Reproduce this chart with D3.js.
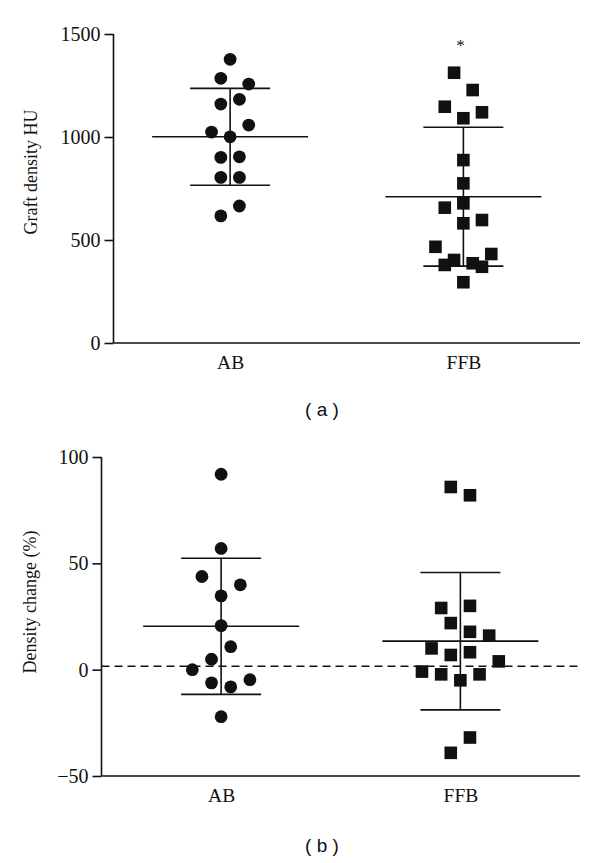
<!DOCTYPE html>
<html>
<head>
<meta charset="utf-8">
<script src="https://cdn.jsdelivr.net/npm/d3@7"></script>
<style>
  html, body { margin: 0; padding: 0; background: #fff; }
  svg { display: block; }
  text { fill: #111; }
</style>
</head>
<body>
<div id="chart"></div>
<script>
// ---------------- data ----------------
const categories = ["AB", "FFB"];

// Panel (a): Graft density HU
const densityAB      = [1377, 1285, 1257, 1183, 1160, 1058, 1024, 1001, 904, 901, 804, 804, 665, 617];
const densityABSlot  = [0, -1, 2, 1, -1, 2, -2, 0, 1, -1, -1, 1, 1, -1];
const densityFFB     = [1312, 1228, 1147, 1120, 1091, 888, 775, 678, 657, 597, 581, 467, 432, 403, 387, 379, 370, 295];
const densityFFBSlot = [-1, 1, -2, 2, 0, 0, 0, 0, -2, 2, 0, -3, 3, -1, 1, -2, 2, 0];
const densityMean    = [1001, 710];
const densitySD      = [235, 337];
const densityTicks   = [0, 500, 1000, 1500];

// Panel (b): Density change (%)
const changeAB       = [91.9, 57.0, 43.8, 39.9, 34.7, 20.7, 10.8, 4.9, 0, -4.7, -6.2, -8.1, -22.1];
const changeABSlot   = [0, 0, -2, 2, 0, 0, 1, -1, -3, 3, -1, 1, 0];
const changeFFB      = [85.9, 82.0, 30.0, 29.0, 21.9, 17.8, 16.0, 10.0, 8.2, 6.9, 3.9, -0.9, -2.2, -2.2, -5.0, -31.9, -39.1];
const changeFFBSlot  = [-1, 1, 1, -2, -1, 1, 3, -3, 1, -1, 4, -4, -2, 2, 0, 1, -1];
const changeMean     = [20.4, 13.4];
const changeSD       = [32.0, 32.3];
const changeTicks    = [-50, 0, 50, 100];
const changeRefLine  = 1.6;

// ---------------- drawing ----------------
const W = 600, H = 863;
const svg = d3.select("#chart").append("svg").attr("width", W).attr("height", H);

const serif = "'Liberation Serif', 'DejaVu Serif', serif";
const sans = "'Liberation Sans', Arial, sans-serif";
const ink = "#111";

function panel(cfg) {
  const g = svg.append("g");
  const x = d3.scalePoint().domain(categories).range([cfg.left, cfg.right]).padding(0.5);
  const y = d3.scaleLinear().domain(cfg.domain).range([cfg.bottom, cfg.top]);
  const slotW = cfg.slotW;

  // y axis
  const yAxis = d3.axisLeft(y).tickValues(cfg.ticks).tickSize(9).tickPadding(4)
    .tickFormat(d => d < 0 ? "\u2212" + Math.abs(d) : d);
  const ya = g.append("g").attr("transform", `translate(${cfg.left},0)`).call(yAxis);
  ya.select(".domain").attr("stroke", ink).attr("stroke-width", 1.6)
    .attr("d", `M0,${cfg.top}V${cfg.bottom}`);
  ya.selectAll(".tick line").attr("stroke", ink).attr("stroke-width", 1.6);
  ya.selectAll(".tick text").attr("font-family", serif).attr("font-size", 20).attr("fill", ink);

  // x axis
  const xAxis = d3.axisBottom(x).tickSize(0).tickPadding(12);
  const xa = g.append("g").attr("transform", `translate(0,${cfg.bottom})`).call(xAxis);
  xa.select(".domain").attr("stroke", ink).attr("stroke-width", 1.6)
    .attr("d", `M${cfg.left},0H${cfg.right}`);
  xa.selectAll(".tick text").attr("font-family", serif).attr("font-size", 19.5).attr("fill", ink);

  // y axis title
  g.append("text")
    .attr("transform", `translate(${cfg.titleX},${cfg.titleY}) rotate(-90)`)
    .attr("text-anchor", "middle").attr("dominant-baseline", "middle")
    .attr("font-family", serif).attr("font-size", 18).text(cfg.title);

  // reference dashed line
  if (cfg.refLine !== undefined) {
    g.append("line")
      .attr("x1", cfg.left).attr("x2", cfg.right)
      .attr("y1", y(cfg.refLine)).attr("y2", y(cfg.refLine))
      .attr("stroke", ink).attr("stroke-width", 1.6).attr("stroke-dasharray", "8,5");
  }

  // mean & SD
  categories.forEach((c, i) => {
    const cx = x(c);
    const m = cfg.mean[i], s = cfg.sd[i];
    g.append("line").attr("x1", cx - 78).attr("x2", cx + 78)
      .attr("y1", y(m)).attr("y2", y(m)).attr("stroke", ink).attr("stroke-width", 1.6);
    g.append("line").attr("x1", cx).attr("x2", cx)
      .attr("y1", y(m - s)).attr("y2", y(m + s)).attr("stroke", ink).attr("stroke-width", 1.6);
    [m - s, m + s].forEach(v => {
      g.append("line").attr("x1", cx - 40).attr("x2", cx + 40)
        .attr("y1", y(v)).attr("y2", y(v)).attr("stroke", ink).attr("stroke-width", 1.6);
    });
  });

  // points AB (circles)
  g.selectAll("circle.ab").data(cfg.ab.map((v, i) => ({ v, s: cfg.abSlot[i] })))
    .join("circle").attr("class", "ab")
    .attr("cx", d => x("AB") + d.s * slotW).attr("cy", d => y(d.v))
    .attr("r", 6.4).attr("fill", ink);

  // points FFB (squares)
  const sq = 12.6;
  g.selectAll("rect.ffb").data(cfg.ffb.map((v, i) => ({ v, s: cfg.ffbSlot[i] })))
    .join("rect").attr("class", "ffb")
    .attr("x", d => x("FFB") + d.s * slotW - sq / 2).attr("y", d => y(d.v) - sq / 2)
    .attr("width", sq).attr("height", sq).attr("fill", ink);

  // panel label
  g.append("text").attr("x", 322).attr("y", cfg.labelY)
    .attr("text-anchor", "middle").attr("dominant-baseline", "middle")
    .attr("font-family", sans).attr("font-size", 19).text(cfg.label);

  return { x, y, g };
}

const pa = panel({
  left: 113.5, right: 580, top: 34, bottom: 343,
  domain: [0, 1500], ticks: densityTicks, slotW: 9.3,
  title: "Graft density HU", titleX: 33, titleY: 172,
  ab: densityAB, abSlot: densityABSlot, ffb: densityFFB, ffbSlot: densityFFBSlot,
  mean: densityMean, sd: densitySD, label: "( a )", labelY: 411
});
// significance asterisk
pa.g.append("text").attr("x", pa.x("FFB") - 3).attr("y", 51)
  .attr("text-anchor", "middle").attr("font-family", serif).attr("font-size", 17).text("*");

panel({
  left: 101.5, right: 580, top: 457, bottom: 776,
  domain: [-50, 100], ticks: changeTicks, slotW: 9.6,
  title: "Density change (%)", titleX: 32, titleY: 602,
  ab: changeAB, abSlot: changeABSlot, ffb: changeFFB, ffbSlot: changeFFBSlot,
  mean: changeMean, sd: changeSD, refLine: changeRefLine, label: "( b )", labelY: 847
});
</script>
</body>
</html>
